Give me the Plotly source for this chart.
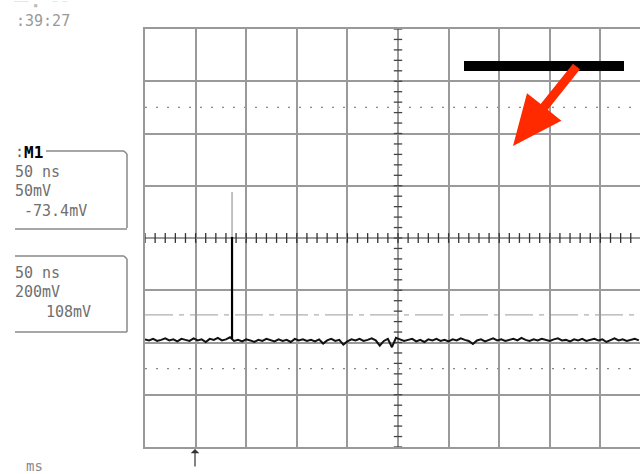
import plotly.graph_objects as go

# ---- data (graticule divisions; 50 ns/div horizontally) ----
sample_step_div = 0.08
trace_y = [-1.94,-1.96,-1.93,-1.97,-1.95,-1.92,-1.96,-1.94,-1.98,-1.93,
           -1.95,-1.97,-1.92,-1.96,-1.94,-1.99,-1.93,-1.95,-1.91,-1.96,
           -1.94,-1.90,-1.97,-1.95,-1.98,-1.94,-1.96,-1.99,-1.95,-1.97,
           -1.93,-1.96,-1.98,-1.94,-1.97,-1.95,-1.99,-1.93,-1.96,-1.94,
           -1.97,-1.95,-1.98,-1.94,-2.02,-1.96,-1.93,-1.97,-1.95,-2.04,
           -1.98,-1.94,-1.96,-1.93,-1.97,-1.95,-1.92,-1.96,-2.06,-1.97,
           -1.93,-2.09,-1.91,-1.94,-1.97,-1.95,-1.93,-1.98,-1.95,-1.99,
           -1.94,-1.96,-1.93,-1.97,-1.95,-1.98,-1.94,-1.96,-1.92,-1.95,
           -1.97,-2.03,-1.96,-1.94,-1.98,-1.95,-1.92,-1.96,-1.94,-1.97,
           -1.95,-1.93,-1.96,-1.91,-1.95,-1.97,-1.94,-1.96,-1.93,-1.95,
           -1.97,-1.94,-1.92,-1.96,-1.95,-1.98,-1.94,-1.96,-1.93,-1.97,
           -1.95,-1.93,-1.96,-1.94,-1.99,-1.95,-1.92,-1.96,-1.94,-1.97,
           -1.95,-1.93,-1.96]
trace_x = [i * sample_step_div for i in range(len(trace_y))]

spike_x = [1.72, 1.72]
spike_bold_y = [-1.93, 0.02]
spike_thin_y = [0.02, 0.88]

ch1_labels = ["50 ns", "50mV", "-73.4mV"]
ch2_labels = ["50 ns", "200mV", "108mV"]
clock_text = ":39:27"
unit_text = "ms"

# ---- layout geometry (pixels) ----
W, H = 640, 474
L, T, B = 145, 29, 447
XMAX = (W - L) / 50.6
PW, PH = W - L, B - T


def px(x):
    return (x - L) / PW


def py(y):
    return (B - y) / PH


fig = go.Figure()

# minor ticks on the centre axes
mt_x = [round(i * 0.2, 2) for i in range(int(XMAX / 0.2) + 1)]
mt_y = [round(-4 + i * 0.2, 2) for i in range(41)]
fig.add_trace(go.Scatter(x=mt_x, y=[0] * len(mt_x), mode="markers",
                         marker=dict(symbol="line-ns", size=7, line=dict(width=1.3, color="#333")),
                         hoverinfo="skip", showlegend=False))
fig.add_trace(go.Scatter(x=[5] * len(mt_y), y=mt_y, mode="markers",
                         marker=dict(symbol="line-ew", size=6, line=dict(width=1.3, color="#444")),
                         hoverinfo="skip", showlegend=False))

# waveform
fig.add_trace(go.Scatter(x=trace_x, y=trace_y, mode="lines",
                         line=dict(color="#111", width=2.0), showlegend=False))
fig.add_trace(go.Scatter(x=spike_x, y=spike_thin_y, mode="lines",
                         line=dict(color="#999", width=1.2), showlegend=False))
fig.add_trace(go.Scatter(x=spike_x, y=spike_bold_y, mode="lines",
                         line=dict(color="#000", width=2.2), showlegend=False))

shapes = []
# centre lines darker
shapes.append(dict(type="line", xref="x", yref="y", x0=0, x1=XMAX, y0=0, y1=0,
                   line=dict(color="#444", width=1.3), layer="below"))
shapes.append(dict(type="line", xref="x", yref="y", x0=5, x1=5, y0=-4, y1=4,
                   line=dict(color="#555", width=1.5), layer="below"))
# dotted cursor lines
for yv in (2.5, -2.5):
    shapes.append(dict(type="line", xref="x", yref="y", x0=0, x1=XMAX, y0=yv, y1=yv,
                       line=dict(color="#888", width=1.3, dash="2px,9px"), layer="below"))
shapes.append(dict(type="line", xref="x", yref="y", x0=0, x1=XMAX, y0=-1.47, y1=-1.47,
                   line=dict(color="#b0b0b0", width=1.2, dash="28px,6px,5px,6px"), layer="below"))

# black bar
shapes.append(dict(type="rect", xref="paper", yref="paper",
                   x0=px(464), x1=px(624), y0=py(71), y1=py(61),
                   fillcolor="#000", line=dict(width=0)))
# red arrow polygon
tail = (576.5, 66.5)
tip = (513.0, 146.0)
dx, dy = tip[0] - tail[0], tip[1] - tail[1]
ln = (dx * dx + dy * dy) ** 0.5
ux, uy = dx / ln, dy / ln
nx, ny = -uy, ux
hw, headw, headl = 4.5, 22.0, 50.0
bx, by = tip[0] - ux * headl, tip[1] - uy * headl
pts = [(tail[0] + nx * hw, tail[1] + ny * hw), (bx + nx * hw, by + ny * hw),
       (bx + nx * headw, by + ny * headw), tip,
       (bx - nx * headw, by - ny * headw), (bx - nx * hw, by - ny * hw),
       (tail[0] - nx * hw, tail[1] - ny * hw)]
path = "M " + " L ".join(f"{px(a):.4f},{py(b):.4f}" for a, b in pts) + " Z"
shapes.append(dict(type="path", xref="paper", yref="paper", path=path,
                   fillcolor="#ff2a00", line=dict(width=0)))

# channel boxes
box_col = "#888"
def seg(x0, y0, x1, y1):
    shapes.append(dict(type="line", xref="paper", yref="paper",
                       x0=px(x0), y0=py(y0), x1=px(x1), y1=py(y1),
                       line=dict(color=box_col, width=1.5)))
seg(46, 151, 124, 151); seg(124, 151, 127, 154); seg(127, 154, 127, 228); seg(15, 229, 127, 229)
seg(15, 256, 124, 256); seg(124, 256, 127, 259); seg(127, 259, 127, 332); seg(15, 332, 127, 332)

anns = []
mono = "DejaVu Sans Mono"
def txt(x, y, s, size=15, color="#707070", **kw):
    anns.append(dict(xref="paper", yref="paper", x=px(x), y=py(y), text=s, showarrow=False,
                     xanchor="left", yanchor="middle", font=dict(family=mono, size=size, color=color), **kw))

txt(12, 6, "‾‾‾ ▪   ‾ ‾", size=8, color="#bbb")
txt(14, 21, clock_text, size=15, color="#999")
txt(13, 152, ":", size=15, color="#666")
txt(22, 152, "<b>M1</b>", size=16, color="#000")
for i, s in enumerate(ch1_labels):
    txt(13 + (9 if i == 2 else 0), 172 + i * 19.5, s)
for i, s in enumerate(ch2_labels):
    txt(13 + (31 if i == 2 else 0), 273 + i * 19.5, s)
txt(24, 466, unit_text, size=14, color="#888")

# trigger marker
anns.append(dict(xref="paper", yref="paper", x=px(195), y=py(449), ax=0, ay=19,
                 text="", showarrow=True,
                 arrowhead=1, arrowsize=1.2, arrowwidth=1.2, arrowcolor="#333"))

fig.update_layout(
    width=W, height=H, margin=dict(l=L, r=0, t=T, b=H - B, pad=0),
    paper_bgcolor="white", plot_bgcolor="white",
    shapes=shapes, annotations=anns, showlegend=False,
    xaxis=dict(range=[0, XMAX], dtick=1, tick0=0, showgrid=True, gridcolor="#9a9a9a", gridwidth=1.5,
               showticklabels=False, ticks="", zeroline=False, showline=True, mirror=True,
               linecolor="#999", linewidth=1.5, fixedrange=True),
    yaxis=dict(range=[-4, 4], dtick=1, tick0=0, showgrid=True, gridcolor="#9a9a9a", gridwidth=1.5,
               showticklabels=False, ticks="", zeroline=False, showline=True, mirror=False,
               linecolor="#999", linewidth=1.5, fixedrange=True),
)

fig.write_html("out.html")
